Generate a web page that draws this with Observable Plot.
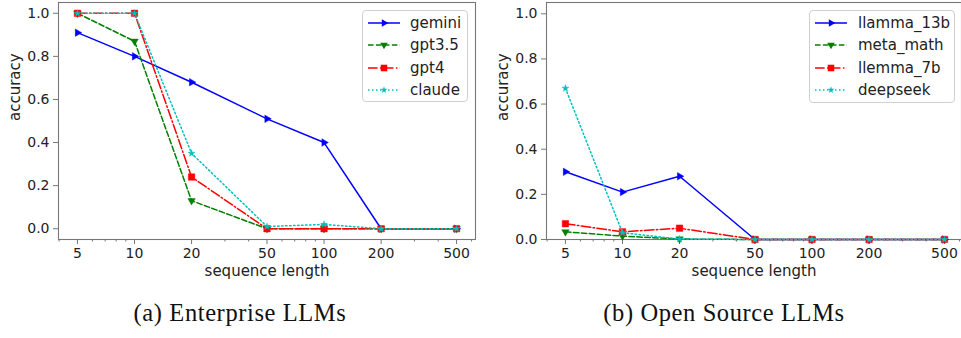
<!DOCTYPE html>
<html>
<head>
<meta charset="utf-8">
<script src="https://cdn.jsdelivr.net/npm/d3@7"></script>
<script src="https://cdn.jsdelivr.net/npm/@observablehq/plot@0.6"></script>
<style>
  body { margin: 0; background: #fff; }
  #wrap { position: relative; width: 961px; height: 338px; overflow: hidden; font-family: "DejaVu Sans", sans-serif; }
  .panel { position: absolute; top: 0; }
  .legend { position: absolute; border: 1px solid #d0d0d0; border-radius: 4px; background: rgba(255,255,255,0.85); box-sizing: border-box; }
  .row { position: absolute; left: 0; height: 22px; display: flex; align-items: center; font-size: 15px; color: #222; white-space: nowrap; }
  .row svg { position: absolute; top: 0; }
  .row span { position: absolute; }
  .caption { position: absolute; top: 299px; font-family: "Liberation Serif", "DejaVu Serif", serif; font-size: 24.5px; letter-spacing: 0.6px; color: #111; transform: translateX(-50%); white-space: nowrap; }
</style>
</head>
<body>
<div id="wrap"></div>
<script>
// ---- data ----
const seqLen = [5, 10, 20, 50, 100, 200, 500];
const minorTicks = [4, 6, 7, 8, 9, 30, 40, 60, 70, 80, 90, 300, 400, 600];
const yTicks = [0, 0.2, 0.4, 0.6, 0.8, 1.0];

const enterpriseNames = ["gemini", "gpt3.5", "gpt4", "claude"];
const gemini = [0.91, 0.80, 0.68, 0.51, 0.40, 0.0, 0.0];
const gpt35  = [1.0, 0.87, 0.13, 0.0, 0.0, 0.0, 0.0];
const gpt4   = [1.0, 1.0, 0.24, 0.0, 0.0, 0.0, 0.0];
const claude = [1.0, 1.0, 0.35, 0.01, 0.02, 0.0, 0.0];

const openNames = ["llamma_13b", "meta_math", "llemma_7b", "deepseek"];
const llamma13b = [0.30, 0.21, 0.28, 0.0, 0.0, 0.0, 0.0];
const metaMath  = [0.034, 0.015, 0.002, 0.0, 0.0, 0.0, 0.0];
const llemma7b  = [0.07, 0.034, 0.05, 0.0, 0.0, 0.0, 0.0];
const deepseek  = [0.67, 0.03, 0.002, 0.0, 0.0, 0.0, 0.0];

const captions = ["(a) Enterprise LLMs", "(b) Open Source LLMs"];

// ---- styles (matplotlib b-, g--, r-., c:) ----
const styles = [
  {color: "#0000ff", dash: null, symbol: "triangle", rotate: 90, r: 2.8},
  {color: "#008000", dash: "5.55,2.4", symbol: "triangle", rotate: 180, r: 2.8},
  {color: "#ff0000", dash: "9.6,2.4,1.5,2.4", symbol: "square", rotate: 0, r: 3.7},
  {color: "#00bfbf", dash: "1.5,2.5", symbol: "star", rotate: 0, r: 2.2}
];

function rows(series) {
  return series.map(vals => vals.map((v, i) => ({x: seqLen[i], y: v})));
}

function panel({series, width, marginLeft, marginRight, xDomain, yDomain, left}) {
  const data = rows(series);
  const marks = [
    Plot.frame({stroke: "#777", strokeWidth: 1.1}),
    Plot.axisY({ticks: yTicks, tickFormat: d3.format(".1f"), tickSize: 5, tickPadding: 4, fontSize: 14, stroke: "#777", color: "#222", label: null}),
    Plot.axisX({ticks: seqLen, tickFormat: () => "", tickSize: 5, stroke: "#777", label: null}),
    Plot.axisX({ticks: minorTicks, tickFormat: () => "", tickSize: 2.5, stroke: "#777", label: null}),
    Plot.text(seqLen, {x: d => d, frameAnchor: "bottom", dy: 14, fontSize: 14, fill: "#222", lineAnchor: "middle", text: d => String(d)}),
    Plot.text(["sequence length"], {frameAnchor: "bottom", dy: 32, fontSize: 15, fill: "#222", lineAnchor: "middle"}),
    Plot.text(["accuracy"], {frameAnchor: "left", dx: -43, rotate: -90, fontSize: 15, fill: "#222", lineAnchor: "middle"})
  ];
  data.forEach((d, k) => {
    const s = styles[k];
    marks.push(Plot.line(d, {x: "x", y: "y", stroke: s.color, strokeWidth: 1.5, strokeDasharray: s.dash}));
    marks.push(Plot.dot(d, {x: "x", y: "y", symbol: s.symbol, rotate: s.rotate, r: s.r, fill: s.color, stroke: s.color, strokeOpacity: 0.5, strokeWidth: 0.8}));
  });
  const chart = Plot.plot({
    width, height: 290,
    marginLeft, marginRight, marginTop: 2, marginBottom: 51,
    style: {fontFamily: "DejaVu Sans, sans-serif", overflow: "visible", background: "transparent"},
    x: {type: "log", domain: xDomain},
    y: {domain: yDomain},
    marks
  });
  const div = document.createElement("div");
  div.className = "panel";
  div.style.left = left + "px";
  div.appendChild(chart);
  return div;
}

function legend(names, {left, top, width, height, textX}) {
  const box = document.createElement("div");
  box.className = "legend";
  Object.assign(box.style, {left: left + "px", top: top + "px", width: width + "px", height: height + "px"});
  names.forEach((name, k) => {
    const s = styles[k];
    const row = document.createElement("div");
    row.className = "row";
    row.style.top = (1 + k * 22.3) + "px";
    row.style.width = width + "px";
    const svg = d3.create("svg").attr("width", 40).attr("height", 22).style("left", "4px");
    svg.append("line").attr("x1", 1).attr("x2", 33).attr("y1", 11).attr("y2", 11)
      .attr("stroke", s.color).attr("stroke-width", 1.5).attr("stroke-dasharray", s.dash);
    const sym = {triangle: d3.symbolTriangle, square: d3.symbolSquare, star: d3.symbolStar}[s.symbol];
    svg.append("path").attr("d", d3.symbol(sym, s.r * s.r * Math.PI)())
      .attr("transform", `translate(17,11) rotate(${s.rotate})`)
      .attr("fill", s.color);
    row.appendChild(svg.node());
    const t = document.createElement("span");
    t.textContent = name;
    t.style.left = textX + "px";
    row.appendChild(t);
    box.appendChild(row);
  });
  return box;
}

const wrap = document.getElementById("wrap");
const lo = 5 / Math.pow(10, 0.1);
wrap.appendChild(panel({series: [gemini, gpt35, gpt4, claude], width: 480, marginLeft: 58, marginRight: 5, xDomain: [lo, 500 * Math.pow(10, 0.1)], yDomain: [-0.05, 1.05], left: 0}));
wrap.appendChild(panel({series: [llamma13b, metaMath, llemma7b, deepseek], width: 481, marginLeft: 66, marginRight: 0, xDomain: [lo, 615], yDomain: [0, 1.05], left: 480}));
wrap.appendChild(legend(enterpriseNames, {left: 362, top: 10, width: 106, height: 92, textX: 47}));
wrap.appendChild(legend(openNames, {left: 809, top: 10, width: 146, height: 93, textX: 48}));

captions.forEach((c, i) => {
  const el = document.createElement("div");
  el.className = "caption";
  el.textContent = c;
  el.style.left = (i === 0 ? 240 : 724) + "px";
  wrap.appendChild(el);
});
</script>
</body>
</html>
